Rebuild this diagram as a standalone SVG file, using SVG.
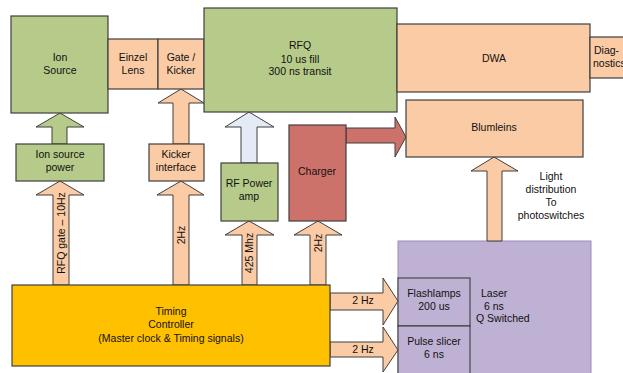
<svg xmlns="http://www.w3.org/2000/svg" width="623" height="373" viewBox="0 0 623 373">
<style>
text{font-family:"Liberation Sans",Arial,sans-serif;font-size:10.5px;fill:#111;text-anchor:middle}
.g{fill:#B6CA89;stroke:#3f3f3f;stroke-width:1.2}
.o{fill:#FACBA5;stroke:#3f3f3f;stroke-width:1.2}
.r{fill:#CD716B;stroke:#3f3f3f;stroke-width:1.2}
.y{fill:#FFC000;stroke:#3f3f3f;stroke-width:1.2}
.p{fill:#BFB1D3;stroke:#9c8bb8;stroke-width:1}
.pl{fill:#BFB1D3;stroke:#333;stroke-width:1}
.b{fill:#E4EBF6;stroke:#3f3f3f;stroke-width:1}
.ao{fill:#FACBA5;stroke:#3f3f3f;stroke-width:1}
.ag{fill:#B6CA89;stroke:#3f3f3f;stroke-width:1}
.ar{fill:#CD716B;stroke:#3f3f3f;stroke-width:1}
</style>
<g id="laser"><rect class="p" x="398" y="241" width="193" height="140"/>
<text x="481" y="297" style="text-anchor:start">Laser</text>
<text x="484" y="310" style="text-anchor:start">6 ns</text>
<text x="476" y="322" style="text-anchor:start">Q Switched</text></g>
<g id="flashlamps"><rect class="pl" x="398" y="278" width="72" height="48"/>
<text x="434" y="297">Flashlamps</text><text x="434" y="310">200 us</text></g>
<g id="pulse-slicer"><rect class="pl" x="398" y="326" width="72" height="55"/>
<text x="434" y="345">Pulse slicer</text><text x="434" y="358">6 ns</text></g>
<g id="connectors">
<path class="ag" d="M52,144 V127 H36 L60,113 L84,127 H67 V144 Z"/>
<path class="ao" d="M53,285 V195 H36 L60,181 L84,195 H69 V285 Z"/>
<path class="ao" d="M173,144 V103 H158 L181,89 L204,103 H189 V144 Z"/>
<path class="ao" d="M173,285 V195 H157 L181,181 L204,195 H189 V285 Z"/>
<path class="b" d="M241,163 V127 H225 L249,112 L274,127 H257 V163 Z"/>
<path class="ao" d="M242,285 V235 H225 L249,221 L274,235 H257 V285 Z"/>
<path class="ao" d="M310,285 V235 H294 L318,221 L342,235 H326 V285 Z"/>
<path class="ar" d="M346,128 H395 V117 L406,137 L395,157 V143 H346 Z"/>
<path class="ao" d="M487,241 V171 H471 L494,157 L518,171 H502 V241 Z"/>
<path class="ao" d="M330,293 H383 V278 L398,301 L383,325 V310 H330 Z"/>
<path class="ao" d="M330,342 H383 V327 L398,350 L383,372 V357 H330 Z"/>
</g>
<g id="labels">
<text transform="translate(64.5,233) rotate(-90)">RFQ gate – 10Hz</text>
<text transform="translate(184.5,235) rotate(-90)">2Hz</text>
<text transform="translate(253,253) rotate(-90)">425 Mhz</text>
<text transform="translate(321.5,243) rotate(-90)">2Hz</text>
<text x="363" y="304">2 Hz</text>
<text x="363" y="353">2 Hz</text>
<text x="551" y="180">Light</text>
<text x="551" y="193">distribution</text>
<text x="551" y="206">To</text>
<text x="551" y="219">photoswitches</text>
</g>
<g id="ion-source"><rect class="g" x="11" y="16" width="97" height="97"/>
<text x="60" y="61">Ion</text><text x="60" y="74">Source</text></g>
<g id="einzel-lens"><rect class="o" x="108" y="39" width="50" height="50"/>
<text x="133" y="61">Einzel</text><text x="133" y="74">Lens</text></g>
<g id="gate-kicker"><rect class="o" x="158" y="39" width="46" height="50"/>
<text x="181" y="61">Gate /</text><text x="181" y="74">Kicker</text></g>
<g id="rfq"><rect class="g" x="204" y="8" width="193" height="104"/>
<text x="300" y="49">RFQ</text><text x="300" y="63">10 us fill</text><text x="300" y="75">300 ns transit</text></g>
<g id="dwa"><rect class="o" x="397" y="24" width="193" height="68"/>
<text x="494" y="62">DWA</text></g>
<g id="diagnostics"><rect class="o" x="590" y="37" width="40" height="41"/>
<text x="594" y="54" style="text-anchor:start">Diag-</text><text x="593" y="67" style="text-anchor:start">nostics</text></g>
<g id="blumleins"><rect class="o" x="406" y="100" width="177" height="57"/>
<text x="494" y="131">Blumleins</text></g>
<g id="ion-source-power"><rect class="g" x="16" y="144" width="88" height="37"/>
<text x="60" y="158">Ion source</text><text x="60" y="171">power</text></g>
<g id="kicker-interface"><rect class="o" x="149" y="144" width="55" height="37"/>
<text x="176" y="158">Kicker</text><text x="176" y="171">interface</text></g>
<g id="rf-power-amp"><rect class="g" x="221" y="163" width="57" height="58"/>
<text x="249" y="187">RF Power</text><text x="249" y="200">amp</text></g>
<g id="charger"><rect class="r" x="289" y="125" width="57" height="96"/>
<text x="317" y="175">Charger</text></g>
<g id="timing-controller"><rect class="y" x="12" y="285" width="318" height="81"/>
<text x="171" y="315">Timing</text><text x="171" y="328">Controller</text><text x="171" y="342">(Master clock &amp; Timing signals)</text></g>
</svg>
